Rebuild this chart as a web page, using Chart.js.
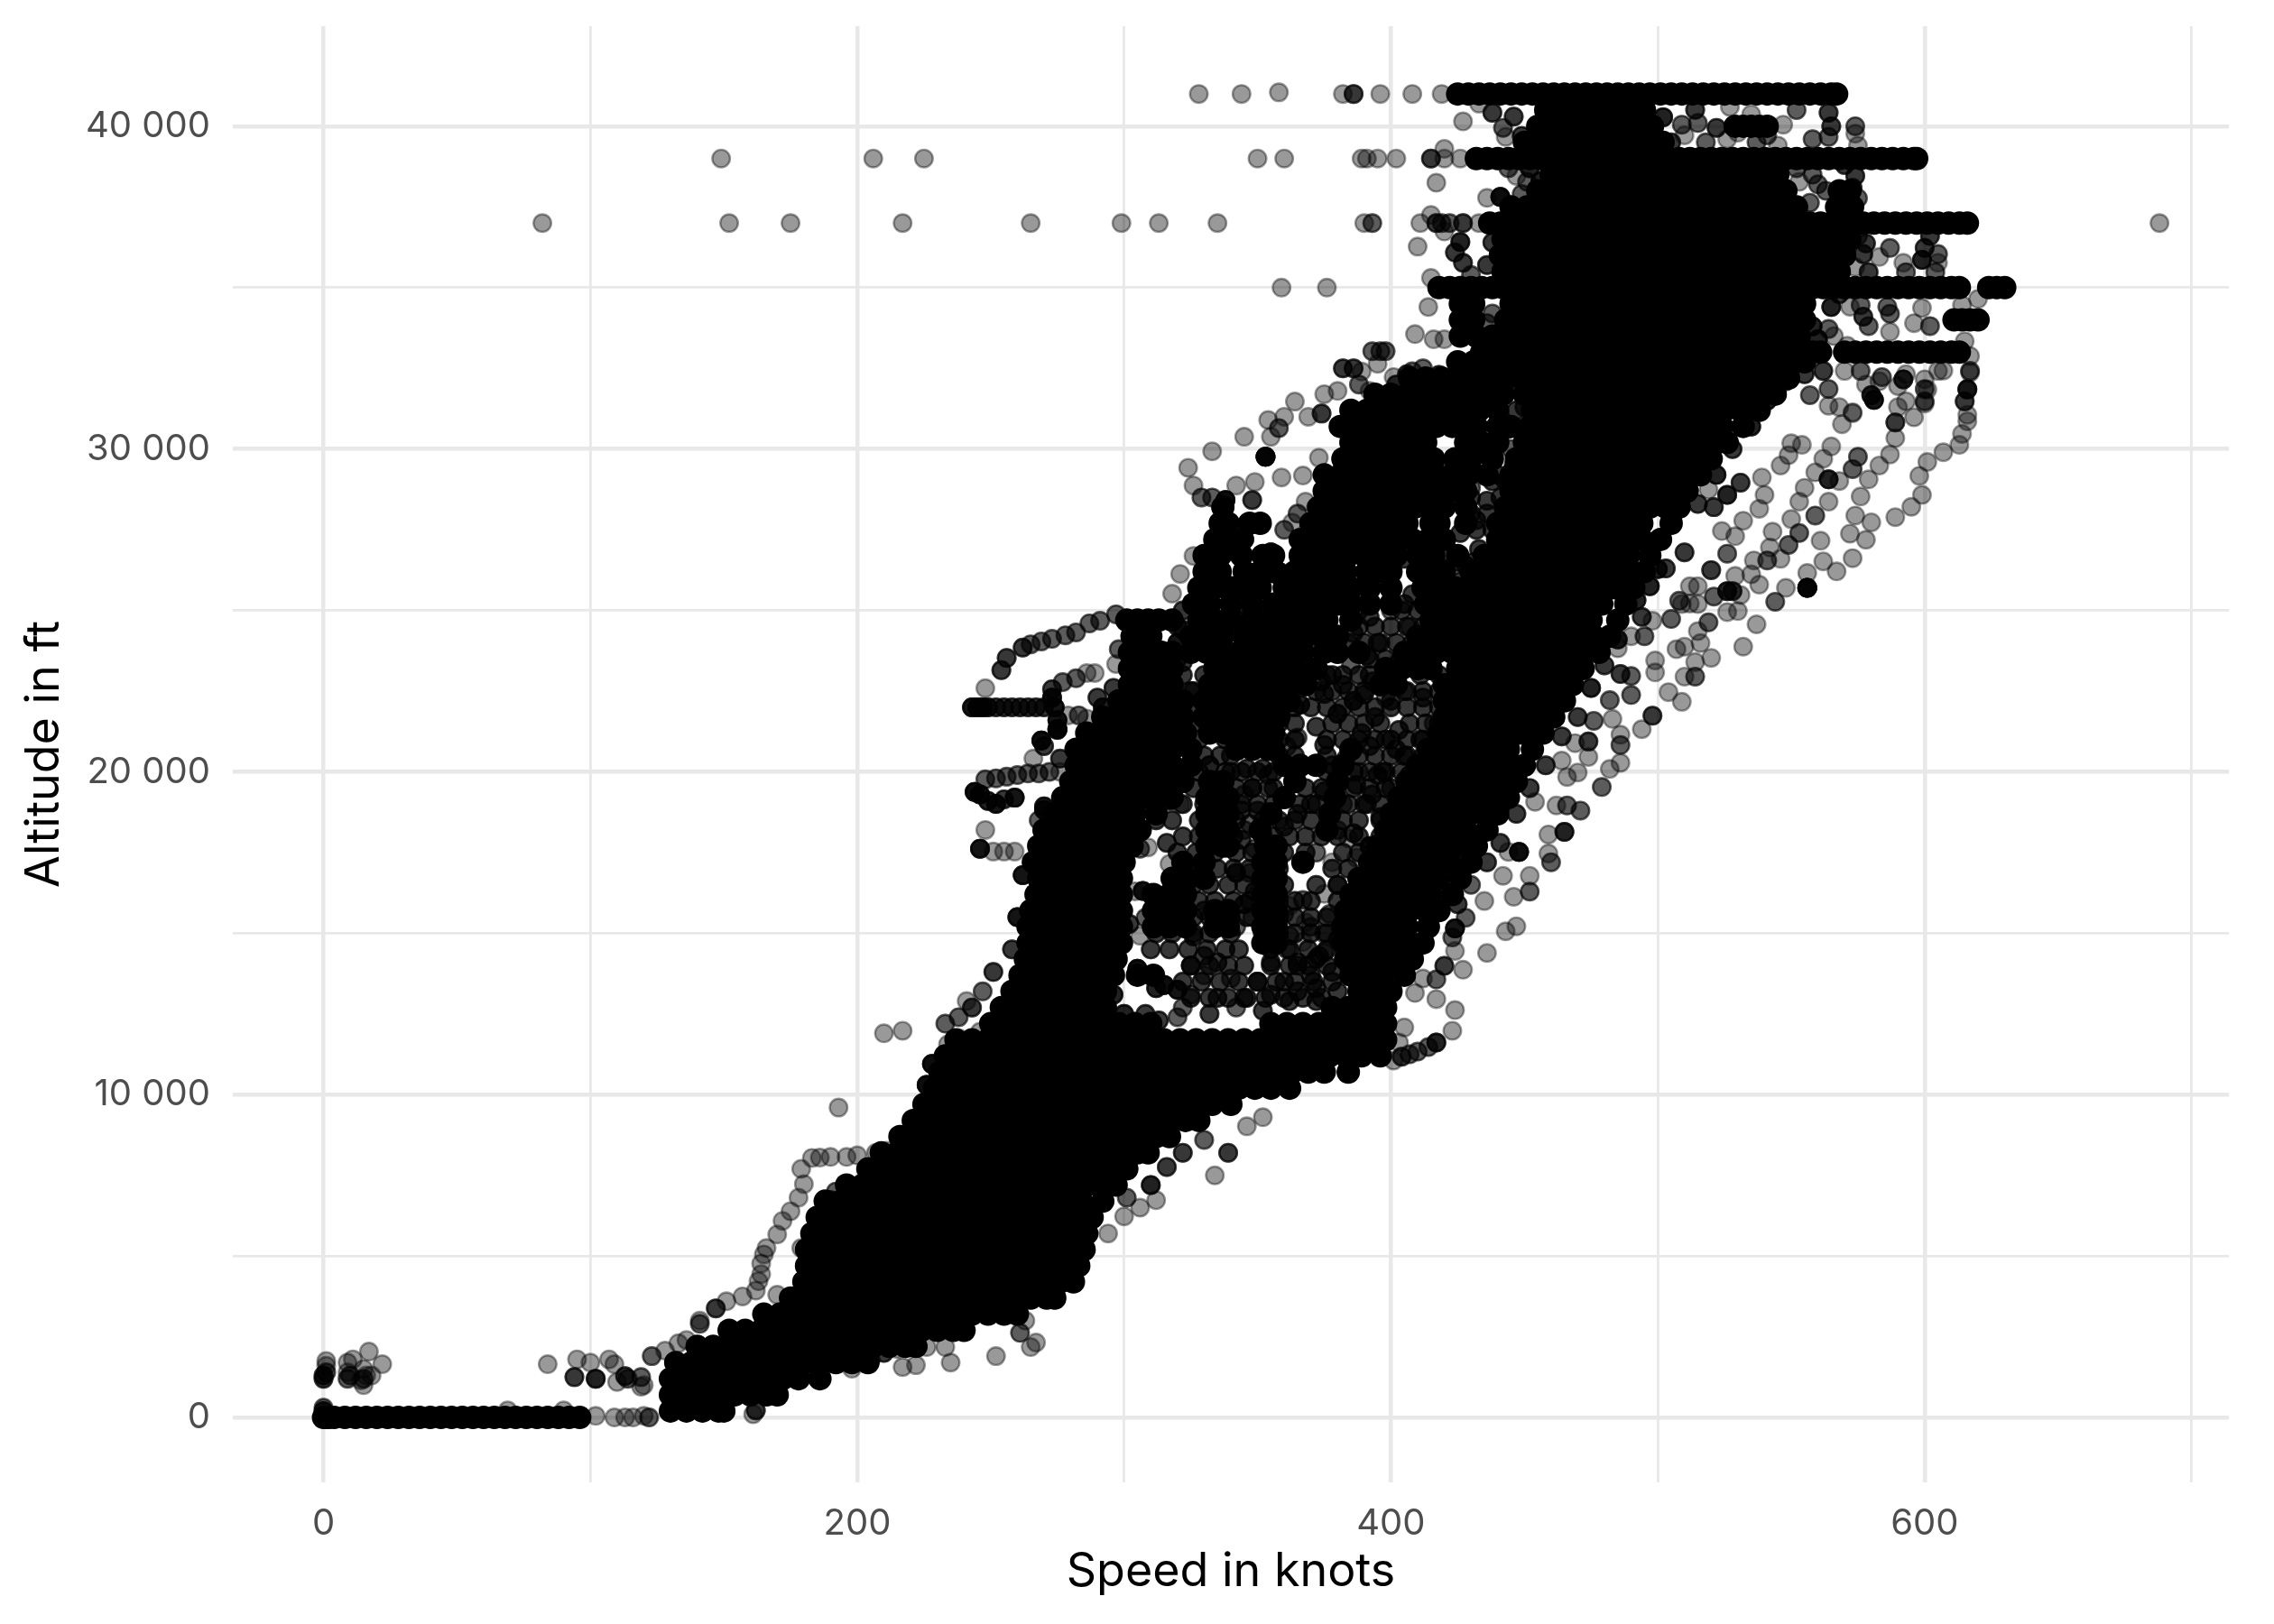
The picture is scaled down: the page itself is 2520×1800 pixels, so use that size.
<!DOCTYPE html>
<html>
<head>
<meta charset="utf-8">
<title>Speed vs altitude</title>
<script src="https://cdn.jsdelivr.net/npm/chart.js@4"></script>
<style>
  html, body { margin: 0; background: #fff; overflow: hidden; }
  canvas { display: block; margin-top: -20px; }
</style>
</head>
<body>
<canvas id="speedAltitude" width="2520" height="1820"></canvas>
<script>
const speedTicks = [0, 100, 200, 300, 400, 500, 600, 700];
const speedLabels = ['0', '', '200', '', '400', '', '600', ''];
const altTicks = [0, 5000, 10000, 15000, 20000, 25000, 30000, 35000, 40000];
const altLabels = ['0', '', '10 000', '', '20 000', '', '30 000', '', '40 000'];

// level flight runs, where the points merge into solid bars
const level0 = [0,1,2,4,8,12,16,20,24,28,32,36,40,44,48,52,56,60,64,68,72,76,80,84,88,92,96];
const level33000 = [434,438,442,446,450,454,458,462,466,470,474,478,482,486,490,494,498,502,506,510,514,518,522,526,530,534,538,542,546,550,554,558,561,570,574,578,582,586,590,594,598,602,606,610,613];
const level34000 = [611,614,617,620];
const level35000 = [418,422,426,430,434,438,442,446,450,454,458,462,466,470,474,478,482,486,490,494,498,502,506,510,514,518,522,526,530,534,538,542,546,550,554,558,562,566,570,574,578,582,586,590,594,598,602,606,610,613,624,627,630];
const level37000 = [437,441,445,449,453,457,461,465,469,473,477,481,485,489,493,497,501,505,509,513,517,521,525,529,533,537,541,545,549,553,557,561,565,569,573,577,581,585,589,593,597,601,605,609,613,616];
const level39000 = [432,436,440,444,448,452,456,460,464,468,472,476,480,484,488,492,496,500,504,508,512,516,520,524,528,532,536,540,544,548,552,556,560,564,568,572,576,580,584,588,592,596,597];
const level40000 = [529,532,535,538,541];
const level41000 = [425,429,433,437,441,445,449,453,457,461,465,469,473,477,481,485,489,493,497,501,505,509,513,517,521,525,529,533,537,541,545,549,553,557,561,565,567];

// overplotted core, read row by row: first entry altitude, the rest speeds
const coreRows = [
  [200,130,136,142,148,150],
  [700,130,136,142,148,154,160,166,170],
  [1200,130,136,142,148,154,160,166,172,178,186],
  [1700,132,138,144,150,156,162,168,174,180,186,192,198,204],
  [2200,140,146,152,158,164,170,176,182,188,194,200,206,212,218,222],
  [2700,152,158,164,170,176,182,188,194,200,206,212,218,224,230,236,240],
  [3200,165,171,177,183,189,195,201,207,213,219,225,231,237,243,249,255,260],
  [3700,175,181,187,193,199,205,211,217,223,229,235,241,247,253,259,265,271,274],
  [4200,180,186,192,198,204,210,216,222,228,234,240,246,252,258,264,270,276,281],
  [4700,181,187,193,199,205,211,217,223,229,235,241,247,253,259,265,271,277,283],
  [5200,181,187,193,199,205,211,217,223,229,235,241,247,253,259,265,271,277,283,285],
  [5700,183,189,195,201,207,213,219,225,231,237,243,249,255,261,267,273,279,286],
  [6200,185,191,197,203,209,215,221,227,233,239,245,251,257,263,269,275,281,288],
  [6700,188,194,200,206,212,218,224,230,236,242,248,254,260,266,272,278,284,292],
  [7200,196,202,208,214,220,226,232,238,244,250,256,262,268,274,280,286,292,297],
  [7700,204,210,216,222,228,234,240,246,252,258,264,270,276,282,288,294,301],
  [8200,209,215,221,227,233,239,245,251,257,263,269,275,281,287,293,299,305,309],
  [8700,216,222,228,234,240,246,252,258,264,270,276,282,288,294,300,306,312,317],
  [9200,221,227,233,239,245,251,257,263,269,275,281,287,293,299,305,311,317,323,328],
  [9700,225,231,237,243,249,255,261,267,273,279,285,291,297,303,309,315,321,327,333,340],
  [10200,229,235,241,247,253,259,265,271,277,283,289,295,301,307,313,319,325,331,337,343,349,355,362],
  [10700,231,237,243,249,255,261,267,273,279,285,291,297,303,309,315,321,327,333,339,345,351,357,363,369,375,384],
  [11200,233,239,245,251,257,263,269,275,281,287,293,299,305,311,317,323,329,335,341,347,353,359,365,371,377,383,389,396],
  [11700,237,243,249,255,261,267,273,279,285,291,297,303,309,315,321,327,333,339,345,351,357,363,369,375,381,387,393,398],
  [12200,250,256,262,268,274,280,286,292,298,304,310,355,361,367,373,379,385,391,398],
  [12700,254,260,266,272,278,284,290,293,378,384,390,396,398],
  [13200,258,264,270,276,282,288,293,388,394,400],
  [13700,261,267,273,279,285,291,296,305,311,385,391,397,405],
  [14200,263,269,275,281,287,293,297,383,389,395,401,408],
  [14700,264,270,276,282,288,294,299,352,357,382,388,394,400,406,412],
  [15200,264,270,276,282,288,294,299,311,317,323,334,339,352,357,382,388,394,400,406,414],
  [15700,265,271,277,283,289,295,299,311,317,323,334,339,352,357,383,389,395,401,407,413,418],
  [16200,267,273,279,285,291,297,299,311,317,323,352,357,385,391,397,403,409,415,423],
  [16700,268,274,280,286,292,299,318,324,330,352,357,388,394,400,406,412,418,426],
  [17200,266,272,278,284,290,296,300,322,330,352,357,367,392,398,404,410,416,422,430],
  [17700,268,274,280,286,292,298,303,331,337,339,353,357,395,401,407,413,419,425,432],
  [18200,270,276,282,288,294,300,306,331,337,339,351,376,398,404,410,416,422,428,436],
  [18700,274,280,286,292,298,304,312,331,337,339,355,377,400,406,412,418,424,430,436,440],
  [19200,277,283,289,295,301,307,313,318,331,337,339,360,379,403,409,415,421,427,433,439,444],
  [19700,280,286,292,298,304,310,316,322,332,337,364,380,406,412,418,424,430,436,442,447],
  [20200,282,288,294,300,306,312,318,325,360,366,372,382,410,416,422,428,434,440,446,450],
  [20700,282,288,294,300,306,312,318,325,342,348,354,356,385,414,420,426,432,438,444,453],
  [21200,286,292,298,304,310,316,323,332,338,344,350,356,418,424,430,436,442,448,454,457],
  [21700,292,298,304,310,316,322,330,336,342,348,354,358,420,426,432,438,444,450,456,461],
  [22200,298,304,310,316,322,330,336,342,348,354,360,362,420,426,432,438,444,450,456,462,465],
  [22700,302,308,314,318,332,338,344,350,356,362,368,396,402,420,426,432,438,444,450,456,462,468],
  [23200,302,308,314,318,334,340,346,352,358,364,372,398,404,410,415,425,431,437,443,449,455,461,467,472],
  [23700,302,308,314,318,325,331,337,343,349,355,361,367,375,380,388,405,411,417,423,429,435,441,447,453,459,465,471,478],
  [24200,303,310,325,331,337,345,350,356,362,368,374,380,410,416,422,428,434,440,446,452,458,464,470,476,482],
  [24700,301,305,309,313,318,328,334,340,348,352,358,364,370,376,385,415,421,427,433,439,445,451,457,463,469,475,485],
  [25200,326,332,340,348,356,362,368,374,380,385,392,400,413,419,425,431,437,443,449,455,461,467,473,479,488],
  [25700,328,334,340,345,351,360,366,372,378,385,392,400,412,418,424,430,436,442,448,454,460,466,472,478,484,491],
  [26200,330,336,345,351,356,364,370,376,383,391,397,400,410,416,420,430,436,442,448,454,460,466,472,478,484,490,495],
  [26700,330,336,344,352,356,366,372,378,384,390,396,402,410,416,425,435,441,447,453,459,465,471,477,483,489,497],
  [27200,334,340,344,366,372,378,384,390,396,402,408,414,420,440,446,452,458,464,470,476,482,488,494,501],
  [27700,336,339,347,351,370,376,382,388,394,400,406,415,418,428,440,446,452,458,464,470,476,482,488,494,505],
  [28200,337,373,379,385,391,397,403,409,416,420,428,443,449,455,461,467,473,479,485,491,497,503,508],
  [28700,375,381,387,393,399,405,411,417,420,423,428,445,451,457,463,469,475,481,487,493,499,505,511],
  [29200,375,381,387,393,399,405,411,417,423,429,436,445,451,457,463,469,475,481,487,493,499,505,511,516],
  [29700,382,388,394,400,406,412,416,424,430,438,447,453,459,465,471,477,483,489,495,501,507,513,520],
  [30200,385,391,397,403,409,413,428,434,440,450,456,462,468,474,480,486,492,498,504,510,516,522,526],
  [30700,381,387,393,399,405,411,417,423,429,432,440,445,452,458,464,470,476,482,488,494,500,506,512,518,524,532],
  [31200,385,391,397,403,409,415,421,427,433,440,453,459,465,471,477,483,489,495,501,507,513,519,525,531,538],
  [31700,394,400,406,412,418,424,430,436,442,450,456,462,468,474,480,486,492,498,504,510,516,522,528,534,540,544],
  [32200,407,413,419,425,431,437,443,449,455,460,465,471,477,483,489,495,501,507,513,519,525,531,537,543,549],
  [32700,425,431,437,443,449,455,461,467,473,479,485,491,497,503,509,515,521,527,533,539,545,551,555],
  [33500,426,432,438,444,450,456,462,468,474,480,486,492,498,504,510,516,522,528,534,540,546,553],
  [34000,426,431,443,449,455,461,467,473,479,485,491,497,503,509,515,521,527,533,539,545,551,555],
  [34500,426,431,445,451,457,463,469,475,481,487,493,499,505,511,517,523,529,535,541,547,555],
  [35500,442,448,454,460,466,472,478,484,490,496,502,508,514,520,526,532,538,544,550,556,562,568],
  [36000,441,447,453,459,465,471,477,483,489,495,501,507,513,519,525,531,537,543,549,555,561,567,570],
  [36500,442,448,454,460,466,472,478,484,490,496,502,508,514,520,526,532,538,544,550,556,562,568,572],
  [37500,445,451,457,463,469,475,481,487,493,499,505,511,517,523,529,535,541,547,552,567,573],
  [38000,455,461,467,473,479,485,491,497,503,509,515,521,527,533,539,545,548,568,572],
  [38500,460,466,472,478,484,490,496,502,508,514,520,526,532,538,545],
  [39500,450,456,462,468,474,480,486,492,498,502],
  [40000,455,461,467,473,479,485,491,498],
  [40500,458,464,470,476,482,488,495]
];

// grey, nearly closed parts between the streaks: altitude, then speeds
const textureRows = [
  [13000,325,332,339,346,353,360,367,374],
  [13500,322,329,336,343,350,357,364,371,378],
  [14000,325,332,339,355,362,369,376],
  [14500,310,317,324,331,338,355,362,369,376],
  [15000,312,318,326,332,340,352,358,364,370,376],
  [15500,312,326,332,340,346,358,364,370,376],
  [16000,328,334,341,347,358,364,370,380],
  [16500,326,332,339,345,360,372,380],
  [17000,328,335,341,347,358,378,384],
  [17500,320,327,334,342,348,360,368,382,388],
  [18000,322,328,334,341,352,362,368,374,380,388,396],
  [18500,312,318,328,335,342,352,358,364,370,382,388,396],
  [19000,322,330,344,350,356,366,372,384,390,396],
  [19500,326,342,348,354,368,374,386,392,398],
  [20000,328,338,344,350,356,376,386,392,398,404],
  [20500,330,336,358,364,376,388,394,400,406,412],
  [21000,328,338,358,364,376,382,388,394,400,406,412],
  [21500,326,358,364,378,384,390,396,407,413,418],
  [22000,326,364,370,376,382,388,394,400,406,412,418],
  [22500,325,372,378,384,390,406,412,418],
  [23000,322,376,382,388,392,418],
  [23500,320,392,398],
  [24000,320,384,390,396,402,408],
  [24500,320,388,394,400,406,412],
  [25000,322,342,388,404,410],
  [26500,425,431,437],
  [27500,432,438],
  [28000,430,436],
  [28500,430,441],
  [29000,438,443]
];

// speed, altitude, times overplotted
const outliersTop = [
  [328,41000],[344,41000],[358,41050],[382,41000],[386,41000,3],[396,41000],[408,41000],[419,41000],
  [149,39000],[206,39000],[225,39000],[350,39000],[360,39000],[389,39000],[391,39000],[395,39000],[402,39000],[415,39000,3],[420,39000],[426,39000],
  [82,37000],[152,37000],[175,37000],[217,37000],[265,37000],[299,37000],[313,37000],[335,37000],[390,37000],[393,37000,2],[411,37000],[417,37000,3],[419,37000,2],[422,37000,2],[427,37000,3],[433,37000],[688,37000],
  [359,35000],[376,35000],[410,36270],[415,37250],[417,38250],[415,35300],[414,34400],[427,40150],[420,39300],[420,36740],
  [409,33560],[416,33400],[420,33400],[393,33030,2],[396,33030,2],[398,33030,2],[389,32400],[395,32640],[392,31800],[436,37780],[441,37810,6],[447,38460],[449,37900,2],[451,38280,2],
  [426,36415,4],[424,36090,3],[427,35770,3],[430,35390,2],[406,32320,3],[401,32230],[408,32410,2],[412,32500,2],[399,31580],
  [382,32500,3],[386,32500,3],[380,31800],[375,31700],[364,31470],[360,31000],[354,30900],[358,30650,2],[355,30380],[345,30380],[333,29930],[324,29420],[326,28870],[329,28500,2],[333,28500,2],
  [342,28870],[349,28980],[353,29760,8],[359,29120],[367,29180],[369,31000],[374,31100,3],[373,29730],[368,28370],[363,27720],[348,28420,3],[338,28420,6],[338,27750,6],
  [326,26690],[321,26130],[318,25520],[335,27100,6],[345,27200,6],[355,26800,6],[358,26200,6],[335,26300,6],[345,26000,6],[337,25700,6],[350,25700,6],
  [360,27500,2],[365,28000,2],[372,28200,2],[372,27000,3],[392,30000,3],[410,31200,3],[400,31400,4],[388,32000,2]
];
const lowClusters = [
  [0,1200,3],[0,1300,3],[1,1400,2],[1,1600],[1,1750],[9,1200,2],[9,1400],[10,1300,2],[9,1700],[11,1800],[15,1200,2],[15,1000],[16,1300],[15,1500],[17,2040],[22,1650],[18,1300],[14,1150],
  [0,200,4],[0,300,2],[102,50],[109,0],[113,0],[120,50],[122,0,2],[69,220],[90,220],[162,220,3],[161,100],[116,0],
  [84,1650],[95,1800],[100,1700],[107,1800],[109,1650],[94,1250,3],[102,1200,4],[110,1100],[114,1200,2],[120,1000],[123,1900,2],[119,1250,2],[113,1280,3],[119,950],[128,2070],[133,2300],[136,2400],
  [141,3000],[141,2900,2],[147,3380,3],[151,3600],[157,3750],[162,3930],[170,3800],[163,4220],[164,4440],[164,4770],[165,5050],[166,5250],[170,5670],[172,6090],[175,6390],[178,6810],[180,7230],[179,7700],[183,8040],[186,8050],[190,8070],[196,8070],[200,8120],[207,8200],[211,8260],
  [192,7000,2],[190,6730,3],[179,5250],[193,9600],[210,11900],[217,11980],[234,11560],[238,11750],[246,11950],[228,10950,6],[226,10300,6],
  [334,7500],[339,8200,3],[346,9020],[352,9300],[310,7200,4],[306,6500],[312,6730],[300,6230],[294,5700],[301,6810,2],[316,7760,3],[322,8200,3],[330,8600,2],
  [252,1900],[261,2620,2],[265,2180],[267,2320],[263,3000],[259,3520],[235,1700],[217,1560],[222,1620],[198,1510],[226,2180],[221,2180],[233,2180],[215,2120],[185,1230],[205,1800,2],[210,2000,3],
  [176,1400,3],[180,1500,2],[165,1000,3],[168,800]
];
const edgeLeft = [
  [254,23150,3],[256,23530,3],[262,23850,3],[265,23950,2],[269,24040,2],[273,24120,2],[278,24230,2],[282,24320,2],[287,24600,2],[291,24680,2],[297,24880,2],
  [289,23060],[286,23060],[282,22900,2],[277,22780,2],[273,22560,3],[273,22300,5],[274,22000,5],[275,21600,5],[275,21330,5],
  [243,22000,5],[245,22000,5],[247,22000,5],[249,22000,4],[252,22000,3],[255,22000,3],[258,22000,3],[261,22000,3],[264,22000,3],[267,22000,3],[270,22000,3],[279,21750],[283,21750,2],[286,21650],
  [248,22590],[297,23340],[290,22300,3],[269,20970,6],[266,20410],[270,20800,3],[275,21300,4],[276,20410,3],
  [244,19380,6],[246,19300,5],[252,19010,5],[259,19200,5],[249,19100,4],[255,19150,3],[248,19770,2],[252,19800,2],[256,19850,2],[260,19900,2],[264,19950,2],[268,19950,2],[272,20000,2],[276,20000],[270,18820,5],
  [248,18200],[246,17620,5],[251,17530],[255,17530],[259,17530],[270,18930,4],[268,18500,2],
  [262,16800,5],[260,15500,5],[258,14500,3],[251,13800,3],[247,13200,2],[243,12700,3],[238,12400,2],[233,12200,2],[241,12900]
];
const edgeRight = [
  [589,27890],[595,28210],[599,28580],[598,29170],[601,29600],[607,29900],[613,30130],[614,30470],[616,30860],[615,31470],[616,31840,2],[617,32370],
  [580,27730],[578,27190],[572,27380],[574,27940],[573,26620],[567,26210],[562,26520],[556,26160],[556,25700,8],[548,25700],[544,25270,2],[537,24570],[532,23880],[530,24980],[526,24950],[526,25600,4],[528,25600,3],[521,25430,2],[531,25480],
  [561,27160],[546,26600],[549,27030,2],[553,27400,2],[559,27940,2],[550,27830],[543,27440],[542,26950],[541,26550,2],[536,26550],[535,26120],[529,26070],[538,25800],[526,26760,2],[520,26250,3],[512,25750],[515,25750],[512,25215],[509,25200],[515,25200],[505,24735,2],[519,24630,2],[515,24360],[516,23990],[520,23530],[514,23400],[510,23880],[507,23800],
  [514,22950,2],[510,22950],[499,23450],[499,23080],[509,22170],[504,22470],[490,22970,2],[490,22380,2],[486,23030,3],[498,21740,3],[494,21320],[486,21150],[486,20830,2],[486,20280],[482,20090],[479,19530,2],[474,20940,3],[474,20460],[469,20890],[476,21580,2],[483,21640],[482,22220,2],[470,19980],[466,19840],[464,20350],[471,18800,2],[466,18960,2],[462,18960],[465,18140,4],[459,18060],[459,17470],[460,17200,2],[452,16780],[442,16780],[452,16290,2],[446,16130],[454,19070],[448,17520,6],[444,17520],
  [564,28370],[559,29280],[562,29700],[565,30080],[576,28530],[579,29060],[583,29490],[587,29830],[589,30340],[589,30825,3],[596,30985],[590,31300],[600,31410],[581,31520,5],[601,31840],[607,32430],[592,32160,4],[600,32160],[583,32100],[578,32000],[569,30770],[573,31140],[568,31300],
  [564,29060,4],[568,29010],[573,29380,2],[575,29760,2],[553,28370],[555,28800],[550,30180],[554,30130],[538,28150],[532,27780],[529,27300],[524,27460],[526,28580,4],[531,28960,3],[540,28580],[539,29120],[546,29490],[549,29810],[519,28740],[521,28200,3],[500,26280,4],[497,25750,4],[492,25320,4],[498,24680],[495,24200,2],[485,23830],[490,24200],
  [424,15150,5],[428,15480,2],[435,16000],[447,15215],[443,15060],[436,14390],[427,13870],[424,14450],[423,14870,2],[417,12960],[424,12620],[423,11980],[417,11615,4],[414,11475,2],[410,11335,2],[407,11250,2],[404,11177,3],[401,11056],[405,12080],[403,11615],[417,13570,2],[412,13600],[409,13150],[420,13990,3],
  [510,26800,3],[505,27700,3],[515,28300,3],[522,29200,4],[528,30000,3],[535,30700,4],[541,31500,4],[548,32100,3],[503,26300,3],[508,25300,2],[494,24800,3],[485,24100,4],[480,23300,3],[475,22600,4],[470,21700,3],[464,21100,3],[458,20200,3],[452,19500,3],[447,18700,3],[441,17800,3],[436,17200,3],[430,16500,2],[425,15900,3]
];
const tailUpper = [
  [602,36600,3],[600,36230,3],[605,36040,2],[599,35860,4],[605,35770],[592,35770],[604,35480,2],[593,35480,2],[587,36230,2],[578,36370,3],[577,36040,3],[583,35950],[574,35630],[579,35480,3],
  [614,34460],[620,34650],[572,34410],[576,34460,2],[586,34410,2],[599,34370],[577,34100,3],[587,34190,2],[596,33900],[602,33810,2],[579,33810,2],[587,33630],[564,33720,2],[566,33500],[571,33200],[615,33340],[617,32880],[617,32420,2],[616,31860,3],[615,31480,2],[616,31060],[600,31480,2],[600,31860,2],[593,32320],[593,31480],[605,32420],[590,31950],[580,31670,4],[573,31110],[584,32230,2],[576,32420,2],[570,32420],[562,32420,3],[555,32320,3],[557,31670,2],[564,31860,2],[564,31340],
  [564,40420,3],[565,40000,3],[564,39670,2],[574,40000,2],[574,39770],[575,39400],[541,39720,2],[545,39400],[535,40370],[522,39950,3],[514,40510,3],[527,40600],[510,39720],[502,40280,4],[509,40050,2],[518,39500,2],[526,39600],[537,39500,2],[530,39800],[547,40050],[442,39950,2],[438,40420,3],[433,40700],[443,39670],[446,40300,3],[449,39700,3],[505,39500,3],[552,40500,2],[558,39600,2],[515,40100,2],
  [574,38460,3],[573,38090,3],[575,37770,2],[572,37530,2],[557,37630,2],[560,38200,2],[553,38280],[563,38000,2],[552,37530],[570,38800,3],[558,38500,2],[552,38700,2],[547,38100,3],
  [540,36000],[555,36500,3],[575,36600,2],[568,36700,3],[560,36650,2],[565,34400,4],[558,33800,4],[560,33400,4],[564,35300,4],[568,34800,3],
  [445,33600,3],[438,34200,2],[436,33900,2],[440,32900,3],[435,32500,3],[430,32300,3],[444,32100,3],[420,32000,4],[415,31900,3],[436,35700,3],[438,36400,3],[444,38700,2],[452,38700,4],[456,38300,4]
];
// looser, grey parts between the dense streaks
const interior = [
  [317,19100,3],[321,19000],[315,19200],[306,17620,2],[309,17660],[316,17800,3],[317,17150],[307,16310,5],[310,16250],[304,16300],[302,15290,3],[308,15480,2],[306,14920],
  [331,21520],[332,22640],[366,22080,4],[362,22600,2],[375,22410,3],[361,20780,2],[365,21060,2],[375,20830,3],[380,21800,4],[386,22200,4],[394,21700,3],[400,22200,3],[392,20800,3],[398,21000,3],[403,21300,3],[389,21200,3],[372,21400,3],[383,20400,2],[407,19900,3],[402,20700,3],[397,20000,3],[393,19300,3],
  [344,17900,3],[349,17620,2],[342,16870,4],[347,16870,2],[349,16300,3],[345,15900,4],[348,15500,2],[367,16030,2],[362,15850],[368,15340],[362,14920,2],[367,14730],[361,14500,2],[378,17200],[375,16220],[384,17940],[392,17700,5],[387,17340],[386,18100,3],[396,18600,3],[391,19000,3],[344,18800,3],[348,19500,3],[340,20000,3],[332,20200,4],[340,20500,3],[345,19300,2],[354,19900,2],[347,18400,2],[343,14500,3],[330,14300,3],
  [305,13900,6],[310,13700,6],[315,13400,6],[320,13250,5],[312,13300,4],[325,14000,3],[335,14100,3],[345,14000,3],[355,14100,3],[365,14000,3],[372,14200,3],[330,13700,2],[340,13600,2],[350,13500,3],[360,13500,3],[370,13700,3],[378,13800,3],[325,13100,2],[335,13000,3],[345,13000,3],[355,13100,3],[365,13200,3],[372,13300,3],[322,12700,2],[332,12500,3],[342,12700,2],[352,12600,3],[362,12900,3],[372,12900,3],[380,13200,3],
  [300,12500,4],[308,12500,3],[313,12300,3],[320,12400,2],[296,13100,4],[330,15700,3],[326,14900,3],[375,15000,2],[380,14800,3],[373,14300,3],[385,16000,3],
  [372,24000,3],[395,24000,3],[400,25000,2],[392,24800,3],[407,24500,2],[403,23400,3],[393,22800,3],[378,23000,3],[385,23300,2],[408,25500,3],[405,26600,3],[426,27400,3],[432,27800,3],[436,28400,3],[430,28800,2],[440,26500,2],[426,25900,3],[428,29800,3],[420,29500,3],[443,30600,3],[445,30000,2],[440,29200,3],[422,26800,3],[370,25000,2],
  [374,22800,3],[382,22700,3],[390,22400,3],[398,22300,2],[405,22500,2],[412,22300,3],[416,21500,2],[411,21000,3],[405,20500,3],[400,19500,3],[395,19900,3],[387,19600,3],[382,19000,2],[375,19400,3],[370,19000,3],[365,18700,3],[360,18300,3],[356,18000,3],[350,18800,3],[345,18200,2],[356,19500,3],[352,20100,3],[346,20100,3],
  [372,17500,2],[380,18200,2],[392,17100,3],[380,16500,2],[377,15600,2],[370,15200,2],[375,14400,2],[365,14100,3],[360,15600,2],[342,15200,2],[411,23000,3],[416,24000,3],[408,23700,2],[386,24300,3],[391,23600,3],[403,19000,3],[409,18300,2],[398,17600,3],[403,17100,3],[378,20200,3],[388,20000,2],
  [326,22500,3],[322,23400,3],[330,23000,3],[320,24000,2],[310,23200,2],[296,22600,3],[292,22000,4],[320,21300,3],[298,23800,2],[345,24700,3],[322,24400,3],[388,25400,3],[405,25200,3],[424,29000,2],[441,27700,3],[433,26900,3],[428,26400,3],[405,27700,2],[446,29500,3],[447,31200,3],[450,31300,3],[456,32400,3],[460,32000,3],[400,30800,2],[402,32000,3],[418,32300,3],[408,31900,3]
];

function fromLevel(alt, speeds) { return speeds.map(s => ({ x: s, y: alt })); }

const barPoints = [].concat(
  fromLevel(0, level0), fromLevel(33000, level33000), fromLevel(34000, level34000),
  fromLevel(35000, level35000), fromLevel(37000, level37000), fromLevel(39000, level39000),
  fromLevel(40000, level40000), fromLevel(41000, level41000)
);
const corePoints = coreRows.flatMap(r => fromLevel(r[0], r.slice(1)));

const loosePoints = [];
[outliersTop, lowClusters, edgeLeft, edgeRight, tailUpper, interior].forEach(list => {
  list.forEach(p => {
    for (let i = 0; i < (p[2] || 1); i++) loosePoints.push({ x: p[0], y: p[1] });
  });
});
textureRows.forEach(r => {
  const row = fromLevel(r[0], r.slice(1));
  loosePoints.push(...row, ...row, ...row);
});

const FONT = 'Inter, sans-serif';
const GREY_ALPHA = 'rgba(0,0,0,0.4)';
const GRID = '#E8E8E8';

const data = {
  datasets: [
    { label: 'loose', data: loosePoints, backgroundColor: GREY_ALPHA, borderColor: GREY_ALPHA, pointRadius: 9.8, borderWidth: 2.4 },
    { label: 'level', data: barPoints, backgroundColor: '#000', borderColor: '#000', pointRadius: 13, borderWidth: 0 },
    { label: 'core', data: corePoints, backgroundColor: '#000', borderColor: '#000', pointRadius: 13, borderWidth: 0 }
  ]
};

const config = {
  type: 'scatter',
  data: data,
  options: {
    responsive: false,
    animation: false,
    devicePixelRatio: 1,
    layout: { autoPadding: false, padding: { top: 27, right: 50, left: 0, bottom: 0 } },
    plugins: { legend: { display: false }, tooltip: { enabled: false } },
    scales: {
      x: {
        type: 'linear',
        min: -34,
        max: 714,
        afterFit: s => { s.height = 157; },
        afterBuildTicks: s => { s.ticks = speedTicks.map(v => ({ value: v })); },
        border: { display: false },
        grid: {
          color: GRID,
          drawTicks: false,
          lineWidth: c => (c.tick && c.tick.value % 200 === 0 ? 4.5 : 2.8)
        },
        ticks: {
          autoSkip: false,
          maxRotation: 0,
          padding: 22,
          color: '#4D4D4D',
          font: { family: FONT, size: 40 },
          callback: v => speedLabels[speedTicks.indexOf(v)]
        },
        title: {
          display: true,
          text: 'Speed in knots',
          color: '#000',
          padding: { top: 0, bottom: 26 },
          font: { family: FONT, size: 52 }
        }
      },
      y: {
        type: 'linear',
        min: -2010,
        max: 43100,
        afterFit: s => { s.width = 258; },
        afterBuildTicks: s => { s.ticks = altTicks.map(v => ({ value: v })); },
        border: { display: false },
        grid: {
          color: GRID,
          drawTicks: false,
          lineWidth: c => (c.tick && c.tick.value % 10000 === 0 ? 4.5 : 2.8)
        },
        ticks: {
          autoSkip: false,
          padding: 25,
          color: '#4D4D4D',
          font: { family: FONT, size: 40 },
          callback: v => altLabels[altTicks.indexOf(v)]
        },
        title: {
          display: true,
          text: 'Altitude in ft',
          color: '#000',
          padding: { top: 18, bottom: 0 },
          font: { family: FONT, size: 52 }
        }
      }
    }
  }
};

new Chart(document.querySelector('#speedAltitude'), config);
</script>
</body>
</html>
